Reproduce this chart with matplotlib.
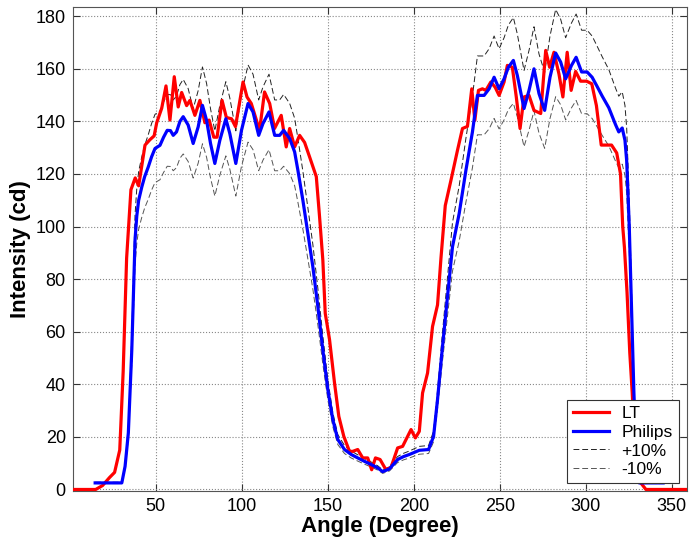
import matplotlib
matplotlib.use("Agg")
import matplotlib.pyplot as plt

plt.rcParams['font.family'] = ['Liberation Sans', 'DejaVu Sans']

# LT measurement (angle in degrees, intensity in cd)
lt_angle = [2, 15, 19, 23, 26, 29, 31, 33, 35.5, 38, 40, 43.7, 46.5, 49, 50.5, 53.4, 55.9,
            58.2, 60.7, 63, 65, 67.9, 69.8, 72.7, 75.6, 78.5, 81, 83.7, 85.6, 88.5, 91, 94,
            96.3, 100.7, 103, 105.5, 110.3, 113.2, 116.2, 119, 122.9, 125.8, 127.8, 130.7,
            133.6, 136.5, 139.4, 143.3, 145.2, 147.1, 148.5, 151, 153.9, 156.4, 159.3, 162.6,
            164.5, 167.4, 170.3, 173.2, 175.5, 177.7, 180.4, 183.8, 186.8, 190.6, 193.5,
            198.4, 200.9, 203.2, 205.1, 208, 210.9, 213.8, 215.8, 218.3, 221.6, 225.4, 228.3,
            231.2, 233.7, 235.5, 237.6, 239.9, 241.9, 244.8, 247.3, 249.6, 252.5, 254.4,
            257.3, 259.6, 261.8, 264.1, 267, 269.9, 273.8, 276.7, 279, 281.5, 284.4, 286.7,
            289.2, 291.5, 294.1, 297, 300.5, 303.5, 306.2, 309, 312.4, 315, 318, 320.2, 321.5,
            322.5, 324, 325.6, 327, 328, 329, 332, 335, 359]
lt_value = [0, 0, 1.5, 4.5, 6.5, 15, 45, 88, 114, 118.5, 115.5, 131, 133, 134.5, 139.5, 145,
            153.5, 140.5, 157, 145.5, 151, 146, 148, 142.3, 148, 139.5, 140.5, 134, 134, 148,
            141.5, 141, 138, 155, 149.3, 146.8, 136.6, 151.2, 146.8, 137.3, 142.3, 130.3,
            137.3, 130.3, 134.7, 132, 126.5, 119, 103.7, 87.3, 67, 57, 40.5, 27.8, 20.2, 14.5,
            14.5, 15.2, 12, 12, 7.5, 12, 11.4, 7.5, 8.5, 15.8, 16.4, 22.8, 19.6, 22.1, 36.7,
            44.3, 62, 70.2, 88, 108, 117.6, 129, 137.3, 138.1, 152.4, 140.4, 151.8, 152.4,
            151.8, 155, 153, 149.9, 155, 161.3, 160.6, 149.3, 137.3, 149.3, 149.9, 144.2,
            143, 167, 160.6, 166.3, 158.1, 149.3, 166.3, 151.8, 159, 155.3, 155.3, 154.3,
            146, 131, 131, 131, 128, 120, 100, 92, 75, 52, 37, 24, 11.4, 2.5, 0, 0]

# Philips measurement
ph_angle = [14.7, 30.2, 32.1, 34, 36, 37.9, 38.9, 40, 41.8, 43.5, 45.6, 47.5, 49.5, 52.4,
            54.5, 56.6, 58.5, 60.1, 62, 64, 65.9, 68.8, 71.7, 74.6, 77.1, 79.5, 81.8, 84.3,
            87.2, 90.7, 93, 96.5, 99.8, 103.6, 106.5, 109.8, 112.3, 115.8, 119.1, 122, 124.3,
            127.8, 130.7, 132.6, 135.5, 138.4, 141.3, 144.2, 147.1, 150, 152.9, 155.8, 159.7,
            163.6, 167.4, 171.3, 175.2, 179, 181.9, 185.8, 190.6, 194, 197.4, 203.2, 208.6,
            211.5, 213.8, 216.7, 219.6, 222.5, 226.4, 230.3, 234.1, 237, 240.9, 243.8, 246.7,
            249.6, 252.5, 255, 257.9, 260.2, 264.1, 267, 269.9, 272.8, 276.1, 279.2, 282.5,
            285.4, 288.3, 291.7, 294.4, 297.6, 300.8, 303.7, 306.6, 309.5, 313.4, 317.3,
            319.2, 321.2, 322.8, 323.8, 325.3, 326.7, 328, 329.5, 331, 345]
ph_value = [2.5, 2.5, 8.8, 21.5, 53, 95, 104, 110, 115, 119, 122.7, 126.5, 129.7, 130.9,
            134, 136.6, 136.5, 134.7, 136, 140, 141.8, 138.6, 131.6, 137.9, 146.1, 140.4,
            131.6, 124, 132.8, 141, 135.4, 124, 136.6, 146.8, 143.6, 134.7, 139.2, 143.6,
            134.7, 134.7, 136.6, 133.5, 128.4, 121.4, 110, 97.4, 84.7, 69.6, 53.1, 38, 26.6,
            19, 15.2, 13.3, 12, 10.7, 9.5, 8.2, 6.8, 7.8, 11.4, 12.5, 13.3, 14.9, 15.2, 20.2,
            34.2, 54.4, 73.4, 92.3, 105, 121.4, 136, 149.9, 149.9, 152.4, 156.8, 152.4, 156.2,
            160.6, 163.2, 157.5, 144.9, 151.8, 160, 150.6, 144.2, 156.8, 166, 162.6, 156.2,
            161.3, 164.4, 158.8, 158.8, 156.8, 153.3, 149.7, 145.2, 138.8, 136, 137.5, 132.8,
            125, 100, 67, 36.7, 12, 2.5, 2.5]

# tolerance band: +/-10 % of the Philips curve (as stated in the legend)
plus10 = [v * 1.1 for v in ph_value]
minus10 = [v * 0.9 for v in ph_value]

x_ticks = [50, 100, 150, 200, 250, 300, 350]
y_ticks = [0, 20, 40, 60, 80, 100, 120, 140, 160, 180]

fig = plt.figure(figsize=(7.0, 5.42), dpi=100)
ax = fig.add_axes([0.104, 0.094, 0.877, 0.893])

ax.plot(lt_angle, lt_value, color='#ff0000', lw=2.3, label='LT', zorder=4)
ax.plot(ph_angle, ph_value, color='#0000ff', lw=2.3, label='Philips', zorder=5)
ax.plot(ph_angle, plus10, color='#222222', lw=0.7, ls=(0, (6, 3)), label='+10%', zorder=3)
ax.plot(ph_angle, minus10, color='#555555', lw=0.7, ls=(0, (6, 3)), label='-10%', zorder=3)

ax.set_xlim(1.7, 358.7)
ax.set_ylim(-0.6, 183.5)
ax.set_xticks(x_ticks)
ax.set_yticks(y_ticks)
ax.tick_params(direction='in', length=5, width=0.8, top=True, right=True,
               labelsize=13, colors='#333333', labelcolor='black', pad=5)
ax.grid(True, ls=':', color='#888888', lw=0.8)
for s in ax.spines.values():
    s.set_color('#555555')
    s.set_linewidth(0.8)

ax.set_xlabel('Angle (Degree)', fontsize=16, fontweight='bold', labelpad=1)
ax.set_ylabel('Intensity (cd)', fontsize=16, fontweight='bold', labelpad=3)

leg = ax.legend(loc='lower right', fontsize=12.5, frameon=True, fancybox=False,
                edgecolor='#333333', framealpha=1, borderaxespad=0.45,
                labelspacing=0.2, handlelength=2.1, handletextpad=0.7, borderpad=0.35)
leg.get_frame().set_linewidth(0.8)

fig.savefig('out.png', dpi=100)
